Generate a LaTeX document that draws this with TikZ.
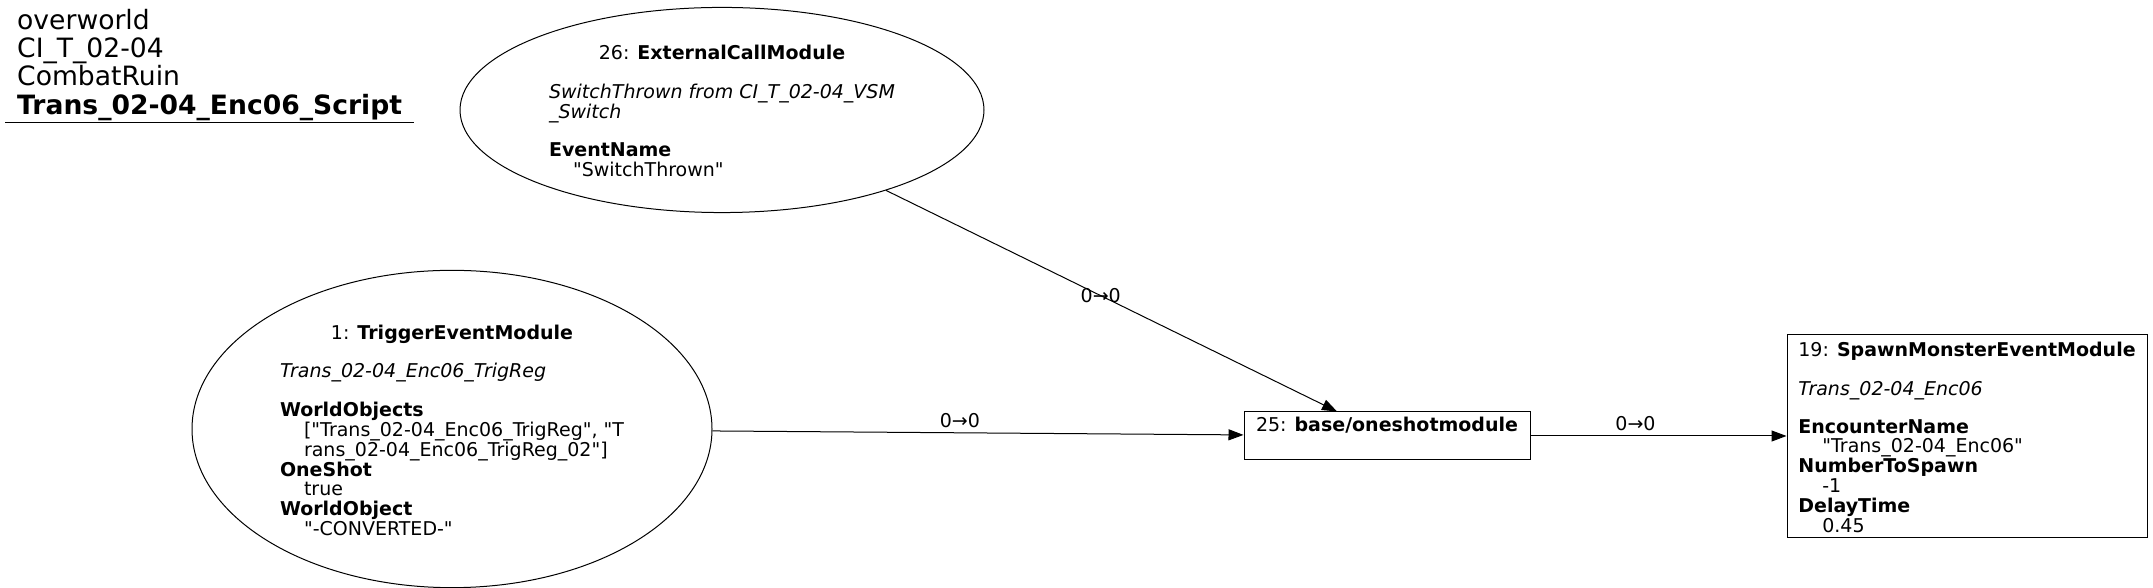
\documentclass[tikz,border=0pt]{standalone}
\usepackage{fontspec}
\setmainfont{DejaVu Sans}
\usetikzlibrary{arrows.meta,shapes.geometric}
\newcommand{\ind}{\hspace*{24pt}}
\newcommand{\dq}{\textquotedbl}
\newcommand{\nodefont}{\fontsize{19}{18.7}\selectfont}
\newcommand{\lowered}[1]{\raisebox{0pt}[\dimexpr\height+8pt\relax][\depth]{#1}}

\begin{document}
\begin{tikzpicture}[x=1pt,y=1pt,
  module/.style={draw=drawColor,line width=1pt,inner sep=0pt,font=\nodefont},
  ellmodule/.style={module,ellipse},
  boxmodule/.style={module,rectangle},
  edge/.style={draw=drawColor,line width=1pt,-{Triangle[length=15pt,width=11pt]}},
  elabel/.style={font=\nodefont,inner sep=0pt,text=drawColor}]
\definecolor{drawColor}{RGB}{0,0,0}
\definecolor{fillColor}{RGB}{255,255,255}
\path[use as bounding box,fill=fillColor] (0,0) rectangle (2153,588);

\node[anchor=north west,inner sep=0pt,font=\fontsize{26.6}{27.4}\selectfont] (title) at (5,579.2) {%
  \setlength{\tabcolsep}{12pt}\setlength{\arrayrulewidth}{1.2pt}%
  \begin{tabular}{l}
  overworld\\
  CI\_T\_02-04\\
  CombatRuin\\
  \textbf{Trans\_02-04\_Enc06\_Script}\\
  \hline
  \end{tabular}};

\node[ellmodule,minimum width=524pt,minimum height=200pt] (e26) at (722,478) {\lowered{%
  \begin{tabular}{@{}l@{}}
  \multicolumn{1}{@{}c@{}}{26: \textbf{ExternalCallModule}}\\
  \\
  \textit{SwitchThrown from CI\_T\_02-04\_VSM}\\
  \textit{\_Switch}\\
  \\
  \textbf{EventName}\\
  \ind\dq SwitchThrown\dq
  \end{tabular}}};

\node[ellmodule,minimum width=520pt,minimum height=306pt] (e1) at (452,159) {\lowered{%
  \begin{tabular}{@{}l@{}}
  \multicolumn{1}{@{}c@{}}{1: \textbf{TriggerEventModule}}\\
  \\
  \textit{Trans\_02-04\_Enc06\_TrigReg}\\
  \\
  \textbf{WorldObjects}\\
  \ind[\dq Trans\_02-04\_Enc06\_TrigReg\dq, \dq T\\
  \ind rans\_02-04\_Enc06\_TrigReg\_02\dq]\\
  \textbf{OneShot}\\
  \ind true\\
  \textbf{WorldObject}\\
  \ind\dq -CONVERTED-\dq
  \end{tabular}}};

\node[boxmodule,minimum width=286pt,minimum height=48pt] (b25) at (1387,152) {%
  \begin{tabular}{@{}l@{}}
  25: \textbf{base/oneshotmodule}\\
  {}
  \end{tabular}};

\node[boxmodule,minimum width=360pt,minimum height=198pt] (b19) at (1967,152) {\lowered{%
  \begin{tabular}{@{}l@{}}
  19: \textbf{SpawnMonsterEventModule}\\
  \\
  \textit{Trans\_02-04\_Enc06}\\
  \\
  \textbf{EncounterName}\\
  \ind\dq Trans\_02-04\_Enc06\dq\\
  \textbf{NumberToSpawn}\\
  \ind-1\\
  \textbf{DelayTime}\\
  \ind 0.45
  \end{tabular}}};

\draw[edge] (e26) -- node[elabel,pos=0.476] {0→0} (b25);
\draw[edge] (e1) -- node[elabel,pos=0.466,anchor=south,yshift=5pt] {0→0} (b25);
\draw[edge] (b25) -- node[elabel,pos=0.41,anchor=south,yshift=5pt] {0→0} (b19);
\end{tikzpicture}
\end{document}
